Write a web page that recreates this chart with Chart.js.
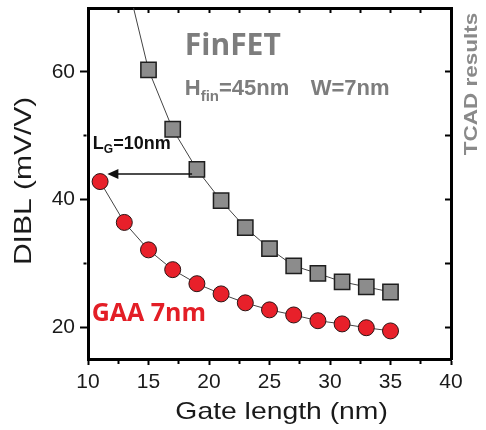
<!DOCTYPE html>
<html>
<head>
<meta charset="utf-8">
<script src="https://cdn.jsdelivr.net/npm/chart.js@4"></script>
<style>
  html, body { margin: 0; padding: 0; background: #fff; }
</style>
</head>
<body>
<canvas id="grafico" width="486" height="430"></canvas>
<script>
// Dados
const gaaLg = [11, 13, 15, 17, 19, 21, 23, 25, 27, 29, 31, 33, 35];
const gaaDibl = [42.8, 36.4, 32.1, 29.0, 26.8, 25.2, 23.8, 22.7, 21.9, 21.0, 20.5, 19.9, 19.4];
const finfetLg = [13, 15, 17, 19, 21, 23, 25, 27, 29, 31, 33, 35];
const finfetDibl = [76, 60.3, 51.0, 44.7, 39.8, 35.6, 32.3, 29.6, 28.4, 27.1, 26.3, 25.5];
const xTicks = [10, 15, 20, 25, 30, 35, 40];
const yTicks = [20, 40, 60];

const fonteTicks = { family: '"Liberation Sans", Arial, sans-serif', size: 21 };

function soDezenas(s) {
  s.ticks = s.ticks.filter(t => t.value % 10 === 0 && t.value < 70);
}

// texto esticado na horizontal (a fonte do original é mais larga)
function textoEsticado(ctx, txt, x, y, fator) {
  ctx.save();
  ctx.translate(x, y);
  ctx.scale(fator, 1);
  ctx.fillText(txt, 0, 0);
  ctx.restore();
}

// texto com subscrito, começando em x
function textoSub(ctx, partes, x, y) {
  partes.forEach(p => {
    ctx.font = p.font;
    ctx.fillText(p.t, x, y + (p.dy || 0));
    x += ctx.measureText(p.t).width;
  });
}

const notas = {
  id: 'notas',
  afterDraw(chart) {
    const { ctx, chartArea } = chart;
    const x = chart.scales.x, y = chart.scales.y;
    ctx.save();
    ctx.textBaseline = 'alphabetic';
    ctx.textAlign = 'left';

    // FinFET
    ctx.fillStyle = '#7d7d7d';
    ctx.font = 'bold 30px "Open Sans"';
    ctx.fillText('FinFET', x.getPixelForValue(18.0), y.getPixelForValue(62.7));

    const bold = s => 'bold ' + s + 'px "Liberation Sans", Arial';
    textoSub(ctx, [
      { t: 'H', font: bold(22) },
      { t: 'fin', font: bold(15), dy: 6 },
      { t: '=45nm', font: bold(22) }
    ], x.getPixelForValue(18.0), y.getPixelForValue(56.4));
    ctx.font = bold(22);
    ctx.fillText('W=7nm', x.getPixelForValue(28.4), y.getPixelForValue(56.4));

    // L_G = 10nm
    ctx.fillStyle = '#111';
    textoSub(ctx, [
      { t: 'L', font: bold(18) },
      { t: 'G', font: bold(12), dy: 4 },
      { t: '=10nm', font: bold(18) }
    ], x.getPixelForValue(10.4), y.getPixelForValue(47.9));

    // seta
    const ya = y.getPixelForValue(44.0);
    const x0 = x.getPixelForValue(18.6), x1 = x.getPixelForValue(11.6);
    ctx.strokeStyle = '#111';
    ctx.lineWidth = 1.5;
    ctx.beginPath();
    ctx.moveTo(x0, ya);
    ctx.lineTo(x1 + 8, ya);
    ctx.stroke();
    ctx.beginPath();
    ctx.moveTo(x1, ya);
    ctx.lineTo(x1 + 11, ya - 5);
    ctx.lineTo(x1 + 11, ya + 5);
    ctx.closePath();
    ctx.fillStyle = '#111';
    ctx.fill();

    // GAA 7nm
    ctx.fillStyle = '#e31e26';
    ctx.font = 'bold 25px "Open Sans"';
    ctx.fillText('GAA 7nm', x.getPixelForValue(10.3), y.getPixelForValue(21.0));

    // TCAD results
    ctx.save();
    ctx.translate(chartArea.right + 21, y.getPixelForValue(58.1));
    ctx.rotate(-Math.PI / 2);
    ctx.fillStyle = '#8a8a8a';
    ctx.font = bold(18);
    ctx.textAlign = 'center';
    ctx.textBaseline = 'middle';
    textoEsticado(ctx, 'TCAD results', 0, 0, 1.25);
    ctx.restore();

    // títulos dos eixos
    ctx.fillStyle = '#1a1a1a';
    ctx.font = '24px "Liberation Sans", Arial';
    ctx.textAlign = 'center';
    textoEsticado(ctx, 'Gate length (nm)', x.getPixelForValue(26.0), chartArea.bottom + 60, 1.18);

    ctx.save();
    ctx.translate(chartArea.left - 64, y.getPixelForValue(42.9));
    ctx.rotate(-Math.PI / 2);
    ctx.textBaseline = 'middle';
    textoEsticado(ctx, 'DIBL (mV/V)', 0, 0, 1.25);
    ctx.restore();

    ctx.restore();
  }
};

const ctx = document.getElementById('grafico').getContext('2d');
new Chart(ctx, {
  type: 'scatter',
  data: {
    datasets: [
      {
        label: 'FinFET',
        data: finfetLg.map((v, i) => ({ x: v, y: finfetDibl[i] })),
        showLine: true,
        borderColor: '#444',
        borderWidth: 1,
        pointStyle: 'rect',
        pointRadius: 10.8,
        pointBackgroundColor: '#8c8c8c',
        pointBorderColor: '#1e1e1e',
        pointBorderWidth: 1.5
      },
      {
        label: 'GAA 7nm',
        data: gaaLg.map((v, i) => ({ x: v, y: gaaDibl[i] })),
        showLine: true,
        borderColor: '#444',
        borderWidth: 1,
        pointStyle: 'circle',
        pointRadius: 8,
        pointBackgroundColor: '#e8202a',
        pointBorderColor: '#2a1414',
        pointBorderWidth: 1
      }
    ]
  },
  options: {
    responsive: false,
    animation: false,
    layout: { padding: 0, autoPadding: false },
    plugins: {
      legend: { display: false },
      tooltip: { enabled: false }
    },
    scales: {
      x: {
        type: 'linear',
        position: 'bottom',
        min: 10,
        max: 40,
        ticks: {
          stepSize: 2.5,
          autoSkip: false,
          maxRotation: 0,
          padding: 5,
          color: '#1a1a1a',
          font: fonteTicks,
          callback: v => xTicks.includes(v) ? v : ''
        },
        grid: {
          drawOnChartArea: false,
          tickLength: 6,
          tickWidth: 2,
          tickColor: '#000',
          tickBorderDash: c => (c.tick && xTicks.includes(c.tick.value)) ? [] : [3, 100]
        },
        border: { color: '#000', width: 3 },
        afterFit: s => { s.height = 71; s.paddingLeft = 0; s.paddingRight = 0; }
      },
      x2: {
        type: 'linear',
        position: 'top',
        min: 10,
        max: 40,
        ticks: { display: false, stepSize: 2.5 },
        grid: { drawOnChartArea: false, tickLength: -5, tickWidth: 2, tickColor: '#000' },
        border: { color: '#000', width: 3 },
        afterFit: s => { s.height = 8; s.paddingLeft = 0; s.paddingRight = 0; }
      },
      y: {
        type: 'linear',
        position: 'left',
        min: 15,
        max: 70,
        afterBuildTicks: soDezenas,
        ticks: {
          stepSize: 10,
          padding: 5,
          color: '#1a1a1a',
          font: fonteTicks,
          callback: v => yTicks.includes(v) ? v : ''
        },
        grid: {
          drawOnChartArea: false,
          tickLength: 8,
          tickWidth: 2,
          tickColor: '#000',
          tickBorderDash: c => (c.tick && yTicks.includes(c.tick.value)) ? [] : [0, 3.5, 3, 100]
        },
        border: { color: '#000', width: 3 },
        afterFit: s => { s.width = 88; s.paddingTop = 0; s.paddingBottom = 0; }
      },
      y2: {
        type: 'linear',
        position: 'right',
        min: 15,
        max: 70,
        afterBuildTicks: soDezenas,
        ticks: { display: false, stepSize: 10 },
        grid: { drawOnChartArea: false, tickLength: -6, tickWidth: 2, tickColor: '#000' },
        border: { color: '#000', width: 3 },
        afterFit: s => { s.width = 35; s.paddingTop = 0; s.paddingBottom = 0; }
      }
    }
  },
  plugins: [notas]
});
</script>
</body>
</html>
